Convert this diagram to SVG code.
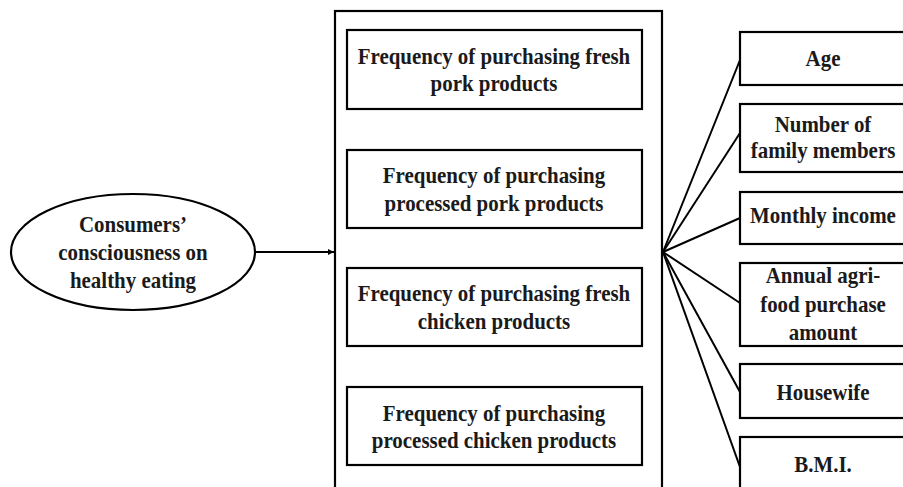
<svg xmlns="http://www.w3.org/2000/svg" width="903" height="487" viewBox="0 0 903 487">
<defs>
<style>
.box{fill:#fff;stroke:#000;stroke-width:2.2}
.t{font-family:"Liberation Serif","Times New Roman",serif;font-weight:bold;font-size:23px;fill:#1a1a1a;text-anchor:middle;transform-box:fill-box;transform-origin:center;transform:scaleX(0.91)}
.c{stroke:#000;stroke-width:2;fill:none}
</style>
<marker id="ah" viewBox="0 0 10 10" refX="10" refY="5" markerWidth="6" markerHeight="6" orient="auto" markerUnits="userSpaceOnUse"><path d="M0,0 L10,5 L0,10 z" fill="#000"/></marker>
</defs>
<rect width="903" height="487" fill="#fff"/>
<g id="outer"><rect class="box" x="335" y="11" width="327" height="490"/></g>
<g id="connectors">
<line class="c" x1="256" y1="252" x2="334" y2="252" marker-end="url(#ah)"/>
<line class="c" x1="663" y1="252" x2="740" y2="60"/>
<line class="c" x1="663" y1="252" x2="740" y2="133"/>
<line class="c" x1="663" y1="252" x2="740" y2="218"/>
<line class="c" x1="663" y1="252" x2="740" y2="303"/>
<line class="c" x1="663" y1="252" x2="740" y2="392"/>
<line class="c" x1="663" y1="252" x2="740" y2="467"/>
</g>
<g id="consumers">
<ellipse class="box" cx="133" cy="252" rx="122" ry="58"/>
<text class="t" x="133" y="232">Consumers’</text>
<text class="t" x="133" y="260">consciousness on</text>
<text class="t" x="133" y="288">healthy eating</text>
</g>
<g id="fresh-pork">
<rect class="box" x="347" y="30" width="295" height="79"/>
<text class="t" x="494" y="64">Frequency of purchasing fresh</text>
<text class="t" x="494" y="91">pork products</text>
</g>
<g id="processed-pork">
<rect class="box" x="347" y="150" width="295" height="78"/>
<text class="t" x="494" y="183">Frequency of purchasing</text>
<text class="t" x="494" y="211">processed pork products</text>
</g>
<g id="fresh-chicken">
<rect class="box" x="347" y="268" width="295" height="78"/>
<text class="t" x="494" y="301">Frequency of purchasing fresh</text>
<text class="t" x="494" y="329">chicken products</text>
</g>
<g id="processed-chicken">
<rect class="box" x="347" y="387" width="295" height="78"/>
<text class="t" x="494" y="421">Frequency of purchasing</text>
<text class="t" x="494" y="448">processed chicken products</text>
</g>
<g id="age">
<rect class="box" x="740" y="32" width="180" height="53"/>
<text class="t" x="823" y="66">Age</text>
</g>
<g id="family">
<rect class="box" x="740" y="104" width="180" height="68"/>
<text class="t" x="823" y="132">Number of</text>
<text class="t" x="823" y="158">family members</text>
</g>
<g id="income">
<rect class="box" x="740" y="192" width="180" height="52"/>
<text class="t" x="823" y="223">Monthly income</text>
</g>
<g id="agrifood">
<rect class="box" x="740" y="263" width="180" height="83"/>
<text class="t" x="823" y="283">Annual agri-</text>
<text class="t" x="823" y="312">food purchase</text>
<text class="t" x="823" y="340">amount</text>
</g>
<g id="housewife">
<rect class="box" x="740" y="364" width="180" height="54"/>
<text class="t" x="823" y="400">Housewife</text>
</g>
<g id="bmi">
<rect class="box" x="740" y="437" width="180" height="70"/>
<text class="t" x="823" y="472">B.M.I.</text>
</g>
</svg>
